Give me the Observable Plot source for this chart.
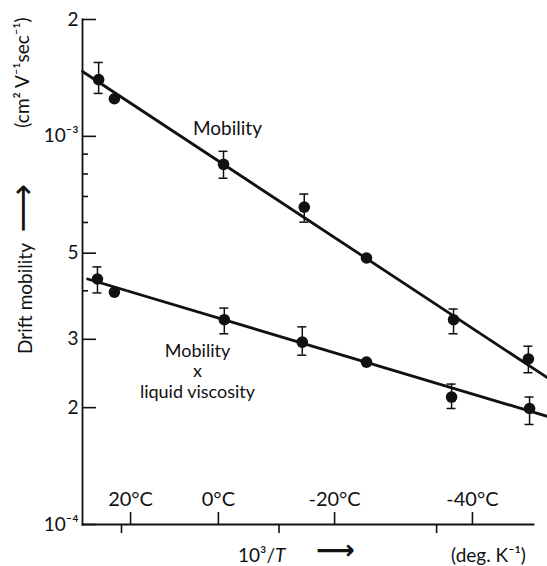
<!DOCTYPE html>
<html><head><meta charset="utf-8">
<script src="https://cdn.jsdelivr.net/npm/d3@7"></script>
<script src="https://cdn.jsdelivr.net/npm/@observablehq/plot@0.6"></script>
<style>body{margin:0;background:#fff}</style>
</head><body><div id="chart"></div>
<script>
// Mobility series (10^3/T in deg K^-1, mobility in cm^2 V^-1 sec^-1)
const mobX  = [3.342, 3.382, 3.659, 3.864, 4.022, 4.243, 4.433];
const mobY  = [1.40e-3, 1.25e-3, 8.47e-4, 6.57e-4, 4.86e-4, 3.37e-4, 2.67e-4];
const mobLo = [1.29e-3, null, 7.80e-4, 6.01e-4, null, 3.10e-4, 2.46e-4];
const mobHi = [1.55e-3, null, 9.15e-4, 7.10e-4, null, 3.59e-4, 2.88e-4];
// Mobility x liquid viscosity series
const visX  = [3.339, 3.382, 3.661, 3.859, 4.022, 4.238, 4.436];
const visY  = [4.29e-4, 3.97e-4, 3.37e-4, 2.95e-4, 2.62e-4, 2.13e-4, 1.99e-4];
const visLo = [3.95e-4, null, 3.10e-4, 2.73e-4, null, 1.99e-4, 1.81e-4];
const visHi = [4.61e-4, null, 3.61e-4, 3.23e-4, null, 2.30e-4, 2.13e-4];
// Fitted straight lines (end points)
const mobFitX = [3.301, 4.481];
const mobFitY = [1.469e-3, 2.39e-4];
const visFitX = [3.314, 4.481];
const visFitY = [4.29e-4, 1.90e-4];
// Axes
const yMajor = [1e-4, 2e-4, 3e-4, 5e-4, 1e-3, 2e-3];
const yMajorLabels = ["10⁻⁴", "2", "3", "5", "10⁻³", "2"];
const yMinor = [4e-4, 6e-4, 7e-4, 8e-4, 9e-4];
const tempX = [3.423, 3.646, 3.941, 4.291];
const tempLabels = ["20°C", "0°C", "-20°C", "-40°C"];
const invTTicks = [3.4, 3.8, 4.2];
const xDomain = [3.301, 4.446];
const yDomain = [1e-4, 2e-3];

const mob = mobX.map((x, i) => ({x, y: mobY[i], lo: mobLo[i], hi: mobHi[i]}));
const vis = visX.map((x, i) => ({x, y: visY[i], lo: visLo[i], hi: visHi[i]}));
const errs = [...mob, ...vis].filter(d => d.lo != null);
const mobFit = mobFitX.map((x, i) => ({x, y: mobFitY[i]}));
const visFit = visFitX.map((x, i) => ({x, y: visFitY[i]}));
const temps = tempX.map((x, i) => ({x, label: tempLabels[i]}));
const ink = "#111";
const font = "Lato, 'Open Sans', sans-serif";
const mid = {textAnchor: "middle", lineAnchor: "middle", fill: ink};

const chart = Plot.plot({
  width: 547, height: 566,
  marginLeft: 82, marginRight: 14, marginTop: 19, marginBottom: 42,
  x: {domain: xDomain, label: null},
  y: {type: "log", domain: yDomain, label: null},
  style: {fontFamily: font, color: ink, background: "#fff"},
  marks: [
    Plot.frame({anchor: "left", stroke: ink, strokeWidth: 1.8}),
    Plot.frame({anchor: "bottom", stroke: ink, strokeWidth: 1.8}),
    Plot.axisY({ticks: yMajor, tickSize: -14, tickPadding: 18, strokeWidth: 1.6, fontSize: 19,
      tickFormat: d => yMajorLabels[yMajor.indexOf(d)], label: null}),
    Plot.axisY({ticks: yMinor, tickSize: -6, strokeWidth: 1.6, tickFormat: () => "", label: null}),
    Plot.axisX({ticks: tempX, tickSize: -12, strokeWidth: 1.6, tickFormat: () => "", label: null}),
    Plot.axisX({ticks: invTTicks, tickSize: 9, strokeWidth: 1.6, tickFormat: () => "", label: null}),
    Plot.text(temps, {x: "x", text: "label", frameAnchor: "bottom", dy: -25, fontSize: 20, ...mid}),
    Plot.line(mobFit, {x: "x", y: "y", stroke: ink, strokeWidth: 2.8}),
    Plot.line(visFit, {x: "x", y: "y", stroke: ink, strokeWidth: 2.8}),
    Plot.ruleX(errs, {x: "x", y1: "lo", y2: "hi", stroke: ink, strokeWidth: 1.5}),
    Plot.ruleY(errs, {y: "hi", x1: "x", x2: "x", insetLeft: -4.5, insetRight: -4.5, stroke: ink, strokeWidth: 1.5}),
    Plot.ruleY(errs, {y: "lo", x1: "x", x2: "x", insetLeft: -4.5, insetRight: -4.5, stroke: ink, strokeWidth: 1.5}),
    Plot.dot([...mob, ...vis], {x: "x", y: "y", r: 5.8, fill: ink, stroke: "none"}),
    Plot.text(["Mobility"], {x: () => 3.669, y: () => 1.043e-3, fontSize: 19, ...mid}),
    Plot.text(["Mobility\nx\nliquid viscosity"], {x: () => 3.593, y: () => 2.489e-4, fontSize: 18, lineHeight: 1.13, ...mid}),
    Plot.text(["Drift mobility"], {frameAnchor: "left", rotate: -90, dx: -57, dy: 26.5, fontSize: 19, ...mid}),
    Plot.text(["⟶"], {frameAnchor: "left", rotate: -90, dx: -59, dy: -64, fontSize: 34, fontFamily: "DejaVu Sans", ...mid}),
    Plot.text(["(cm² V⁻¹sec⁻¹)"], {frameAnchor: "left", rotate: -90, dx: -60, dy: -199.5, fontSize: 19, ...mid}),
    Plot.text(["10³/"], {frameAnchor: "bottom", dx: -33, dy: 31, fontSize: 19, ...mid, textAnchor: "end"}),
    Plot.text(["T"], {frameAnchor: "bottom", dx: -33, dy: 31, fontSize: 19, fontStyle: "italic", ...mid, textAnchor: "start"}),
    Plot.text(["⟶"], {frameAnchor: "bottom", dx: 27.5, dy: 26, fontSize: 27, fontFamily: "DejaVu Sans", fontWeight: "bold", ...mid}),
    Plot.text(["(deg. K⁻¹)"], {frameAnchor: "bottom", dx: 180.5, dy: 31, fontSize: 19, ...mid})
  ]
});
document.getElementById("chart").appendChild(chart);
</script>
</body></html>
